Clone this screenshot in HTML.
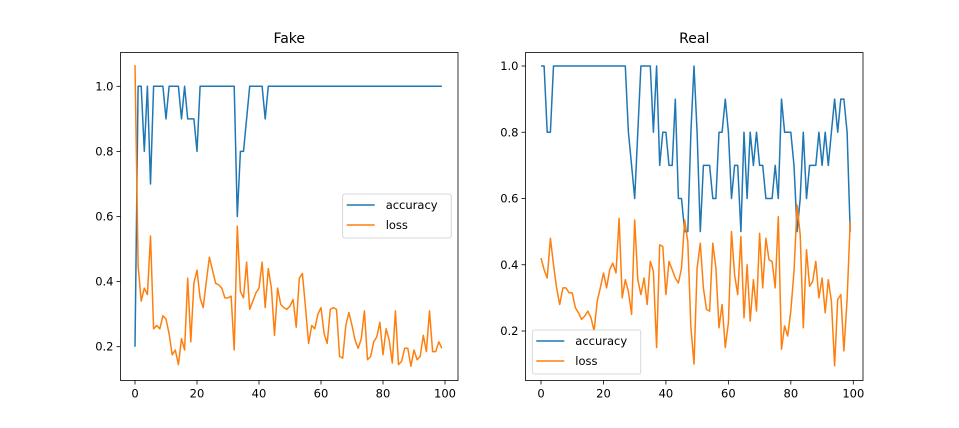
<!DOCTYPE html>
<html><head><meta charset="utf-8"><style>
html,body{margin:0;padding:0;background:#fff;}
svg{display:block;font-family:"DejaVu Sans","Liberation Sans",sans-serif;}
</style></head><body>
<svg id="s" width="959" height="428" viewBox="0 0 959 428" xmlns="http://www.w3.org/2000/svg"></svg>
<script>
const fa=[0.2,1,1,0.8,1,0.7,1,1,1,1,0.9,1,1,1,1,0.9,1,0.9,0.9,0.9,0.8,1,1,1,1,1,1,1,1,1,1,1,1,0.6,0.8,0.8,0.9,1,1,1,1,1,0.9];
while(fa.length<100)fa.push(1);
const fl=[1.065,0.45,0.34,0.38,0.36,0.54,0.255,0.265,0.255,0.295,0.285,0.24,0.175,0.19,0.145,0.225,0.19,0.41,0.215,0.395,0.435,0.35,0.32,0.40,0.475,0.435,0.395,0.39,0.38,0.35,0.35,0.355,0.19,0.57,0.37,0.35,0.46,0.315,0.34,0.365,0.38,0.46,0.32,0.44,0.38,0.235,0.38,0.33,0.32,0.315,0.325,0.345,0.26,0.41,0.425,0.32,0.21,0.265,0.255,0.30,0.32,0.24,0.21,0.315,0.32,0.315,0.17,0.165,0.265,0.305,0.265,0.22,0.195,0.225,0.31,0.16,0.17,0.215,0.23,0.275,0.175,0.255,0.22,0.15,0.31,0.145,0.155,0.195,0.195,0.14,0.19,0.16,0.17,0.235,0.185,0.31,0.185,0.185,0.215,0.195];
const ra=[1,1,0.8,0.8];for(let i=4;i<=27;i++)ra.push(1);
ra.push(0.8,0.7,0.6,0.8,1,1,1,1,0.8,1,0.7,0.8,0.8,0.7,0.7,0.9,0.6,0.6,0.5,0.5,0.8,1,0.8,0.5,0.7,0.7,0.7,0.6,0.6,0.8,0.8,0.9,0.8,0.6,0.7,0.7,0.5,0.8,0.6,0.8,0.7,0.8,0.7,0.7,0.6,0.6,0.6,0.7,0.6,0.9,0.8,0.8,0.8,0.7,0.5,0.6,0.8,0.6,0.7,0.7,0.7,0.8,0.7,0.8,0.7,0.8,0.9,0.8,0.9,0.9,0.8,0.5);
const rl=[0.42,0.385,0.36,0.48,0.40,0.33,0.28,0.33,0.33,0.315,0.315,0.27,0.255,0.235,0.245,0.26,0.24,0.20,0.29,0.33,0.375,0.33,0.385,0.405,0.375,0.54,0.30,0.355,0.32,0.25,0.535,0.355,0.31,0.36,0.28,0.41,0.38,0.15,0.46,0.455,0.31,0.41,0.385,0.36,0.345,0.39,0.535,0.47,0.21,0.10,0.39,0.465,0.33,0.265,0.26,0.465,0.39,0.21,0.28,0.15,0.225,0.50,0.37,0.31,0.485,0.24,0.40,0.23,0.355,0.26,0.495,0.33,0.48,0.415,0.41,0.33,0.545,0.145,0.215,0.185,0.26,0.38,0.58,0.49,0.21,0.445,0.335,0.35,0.41,0.30,0.36,0.255,0.355,0.29,0.095,0.295,0.31,0.14,0.295,0.53];
let h='';
function panel(L,R,T,B,x0,x100,y1,y02,title,acc,loss,leg){
  const X=v=>x0+(x100-x0)*v/100, Y=v=>y02-(v-0.2)*(y02-y1)/0.8;
  h+=`<text x="${(L+R)/2}" y="43" font-size="14" text-anchor="middle" fill="#000">${title}</text>`;
  for(let t=0;t<=100;t+=20){const x=X(t);h+=`<line x1="${x}" y1="${B}" x2="${x}" y2="${B+4}" stroke="#000" stroke-width="0.8"/><text x="${x}" y="${B+17}" font-size="11.5" text-anchor="middle">${t}</text>`;}
  for(let t=2;t<=10;t+=2){const y=Y(t/10);h+=`<line x1="${L-4}" y1="${y}" x2="${L}" y2="${y}" stroke="#000" stroke-width="0.8"/><text x="${L-7}" y="${y+4}" font-size="11.5" text-anchor="end">${(t/10).toFixed(1)}</text>`;}
  const pl=(d,c)=>`<polyline fill="none" stroke="${c}" stroke-width="1.5" stroke-linejoin="round" points="${d.map((v,i)=>X(i).toFixed(1)+','+Y(v).toFixed(1)).join(' ')}"/>`;
  h+=`<svg x="${L}" y="${T}" width="${R-L}" height="${B-T}" overflow="hidden"><g transform="translate(${-L},${-T})">${pl(acc,'#1f77b4')}${pl(loss,'#ff7f0e')}</g></svg>`;
  h+=`<rect x="${L}" y="${T}" width="${R-L}" height="${B-T}" fill="none" stroke="#000" stroke-width="0.8"/>`;
  const [lx,ly,lw,lh]=leg;
  h+=`<rect x="${lx}" y="${ly}" width="${lw}" height="${lh}" rx="2" fill="#fff" fill-opacity="0.8" stroke="#ccc" stroke-width="0.8"/>`;
  h+=`<line x1="${lx+4}" y1="${ly+11}" x2="${lx+32}" y2="${ly+11}" stroke="#1f77b4" stroke-width="1.5"/><text x="${lx+43}" y="${ly+15}" font-size="11.5">accuracy</text>`;
  h+=`<line x1="${lx+4}" y1="${ly+31}" x2="${lx+32}" y2="${ly+31}" stroke="#ff7f0e" stroke-width="1.5"/><text x="${lx+43}" y="${ly+35}" font-size="11.5">loss</text>`;
}
panel(120.5,458,52.5,380.5,135,445,86.3,346.7,'Fake',fa,fl,[342.7,194,108.5,44]);
panel(525.5,863,52.5,380.5,541,853.3,66,331,'Real',ra,rl,[532.3,330,108.5,44]);
document.getElementById('s').innerHTML=h;
</script>
</body></html>
